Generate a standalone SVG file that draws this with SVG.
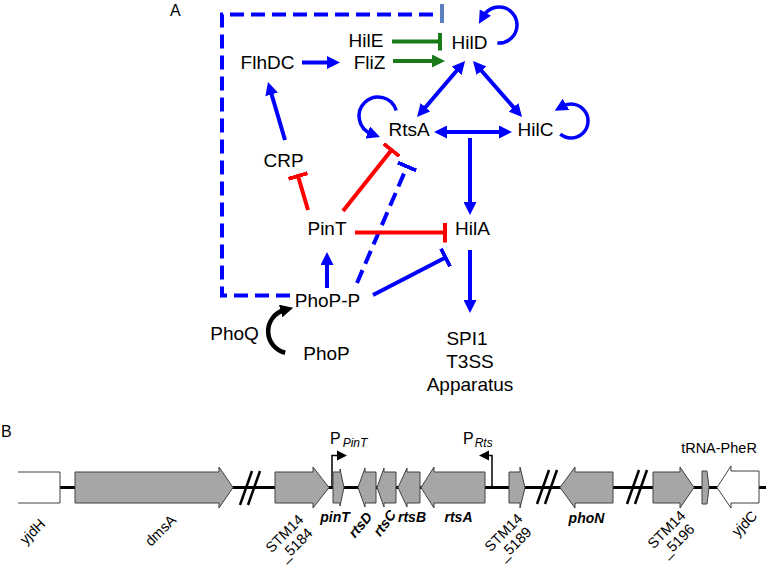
<svg xmlns="http://www.w3.org/2000/svg" width="766" height="570" viewBox="0 0 766 570">
<style>
text{font-family:"Liberation Sans",Arial,sans-serif;fill:#000}
.n{font-size:19px;text-anchor:middle}
.pl{font-size:16px}
.c{fill:none;stroke-width:4}
.b{stroke:#0000ff}
.r{stroke:#ff0000}
.g{stroke:#1a7a1a}
.d{stroke-dasharray:14 7}
.lp{fill:none;stroke:#0000ff;stroke-width:3.5}
.gene{fill:#a6a6a6;stroke:#404040;stroke-width:1}
.wg{fill:#fff;stroke:#404040;stroke-width:1}
.gl{font-size:14px;font-weight:bold;font-style:italic;text-anchor:middle}
.rl{font-size:14.5px;text-anchor:middle}
.brk{stroke:#000;stroke-width:2.5}
</style>
<defs>
<marker id="ab" viewBox="0 0 13 13" markerWidth="13" markerHeight="13" refX="4" refY="6.5" orient="auto-start-reverse" markerUnits="userSpaceOnUse"><path d="M0,0 L13,6.5 L0,13 z" fill="#0000ff"/></marker>
<marker id="ag" viewBox="0 0 13 13" markerWidth="13" markerHeight="13" refX="4" refY="6.5" orient="auto" markerUnits="userSpaceOnUse"><path d="M0,0 L13,6.5 L0,13 z" fill="#1a7a1a"/></marker>
<marker id="ak" viewBox="0 0 13 13" markerWidth="13" markerHeight="13" refX="4" refY="6.5" orient="auto" markerUnits="userSpaceOnUse"><path d="M0,0 L13,6.5 L0,13 z" fill="#000"/></marker>
<marker id="tb" viewBox="0 0 4 20" markerWidth="4" markerHeight="20" refX="2" refY="10" orient="auto" markerUnits="userSpaceOnUse"><rect width="4" height="20" fill="#0000ff"/></marker>
<marker id="tr" viewBox="0 0 4 20" markerWidth="4" markerHeight="20" refX="2" refY="10" orient="auto" markerUnits="userSpaceOnUse"><rect width="4" height="20" fill="#ff0000"/></marker>
<marker id="tg" viewBox="0 0 4 18" markerWidth="4" markerHeight="18" refX="2" refY="9" orient="auto" markerUnits="userSpaceOnUse"><rect width="4" height="18" fill="#1a7a1a"/></marker>
</defs>
<rect width="766" height="570" fill="#fff"/>

<text class="pl" x="170" y="16">A</text>
<text class="pl" x="1" y="437">B</text>

<g id="connectors">
<path class="c b d" d="M290,295.5 H222 V14.5 H438"/>
<rect x="440" y="4" width="4" height="19" fill="#5b7fbd"/>
<path class="c b" d="M302,62.5 L331,62.5" marker-end="url(#ab)"/>
<path class="c g" d="M392,41.5 L440,41.5" marker-end="url(#tg)"/>
<path class="c g" d="M393,61 L436,61" marker-end="url(#ag)"/>
<path class="c b" d="M459.2,67.8 L422.9,110.2" marker-start="url(#ab)" marker-end="url(#ab)"/>
<path class="c b" d="M478.9,67.8 L516.1,110.2" marker-start="url(#ab)" marker-end="url(#ab)"/>
<path class="c b" d="M443,132 L503,132" marker-start="url(#ab)" marker-end="url(#ab)"/>
<path class="c b" d="M470,138 L470,206" marker-end="url(#ab)"/>
<path class="c b" d="M470,250 L470,304" marker-end="url(#ab)"/>
<path class="c b" d="M285,140 L270.5,90.6" marker-end="url(#ab)"/>
<path class="c r" d="M308,210 L298,176" marker-end="url(#tr)"/>
<path class="c r" d="M343,211 L391.5,150" marker-end="url(#tr)"/>
<path class="c b d" d="M357,283 L407,166.5" marker-end="url(#tb)"/>
<path class="c r" d="M355,232.5 L445,232.5" marker-end="url(#tr)"/>
<path class="c b" d="M373,295 L445.5,257.5" marker-end="url(#tb)"/>
<path class="c b" d="M327,288 L327,261" marker-end="url(#ab)"/>
<path class="lp" d="M497.4,42.9 A18,18 0 1,0 483.4,16" marker-end="url(#ab)"/>
<path class="lp" d="M396.2,110.4 A19,19 0 1,0 371.5,133.9" marker-end="url(#ab)"/>
<path class="lp" d="M560.3,134.2 A17,17 0 1,0 562.5,106.3" marker-end="url(#ab)"/>
<path d="M285.2,352.7 A22,22 0 0,1 284.5,310" fill="none" stroke="#000" stroke-width="4.5" marker-end="url(#ak)"/>
</g>

<g id="HilE"><text class="n" x="366" y="47">HilE</text></g>
<g id="FliZ"><text class="n" x="369.5" y="69">FliZ</text></g>
<g id="FlhDC"><text class="n" x="267.5" y="69">FlhDC</text></g>
<g id="HilD"><text class="n" x="469.5" y="49">HilD</text></g>
<g id="RtsA"><text class="n" x="409" y="136">RtsA</text></g>
<g id="HilC"><text class="n" x="535.5" y="136">HilC</text></g>
<g id="CRP"><text class="n" x="283.5" y="167">CRP</text></g>
<g id="PinT"><text class="n" x="327" y="235">PinT</text></g>
<g id="HilA"><text class="n" x="472.5" y="235">HilA</text></g>
<g id="PhoP-P"><text class="n" x="327.5" y="307">PhoP-P</text></g>
<g id="PhoQ"><text class="n" x="234.5" y="340">PhoQ</text></g>
<g id="PhoP"><text class="n" x="326.5" y="360">PhoP</text></g>
<g id="SPI1"><text class="n" x="467" y="345">SPI1</text><text class="n" x="470" y="368">T3SS</text><text class="n" x="470" y="391">Apparatus</text></g>

<g id="locus">
<line x1="60" y1="487.5" x2="766" y2="487.5" stroke="#000" stroke-width="3"/>
<g id="breaks">
<line class="brk" x1="240" y1="505" x2="252" y2="471"/>
<line class="brk" x1="248" y1="505" x2="260" y2="471"/>
<line class="brk" x1="537" y1="504" x2="549" y2="470"/>
<line class="brk" x1="545" y1="504" x2="557" y2="470"/>
<line class="brk" x1="627" y1="504" x2="639" y2="470"/>
<line class="brk" x1="635" y1="504" x2="647" y2="470"/>
</g>
<g id="yjdH"><path class="wg" d="M18,472 H60 V503 H18"/><text class="rl" font-size="15" transform="translate(36,535) rotate(-45)">yjdH</text></g>
<g id="dmsA"><polygon class="gene" points="75,472 219,472 219,467 233,487.5 219,508 219,503 75,503"/><text class="rl" font-size="15" transform="translate(164,534) rotate(-45)">dmsA</text></g>
<g id="STM14_5184"><polygon class="gene" points="275,472 313,472 313,467 329,487.5 313,508 313,503 275,503"/><text class="rl" transform="translate(288,537) rotate(-45)"><tspan x="0" y="0">STM14</tspan><tspan x="0" y="16">_5184</tspan></text></g>
<g id="PPinT"><path d="M332,487.5 V455.5 H338" fill="none" stroke="#000" stroke-width="1.5"/><polygon points="337,450.5 347,455.5 337,460.5" fill="#000"/><text x="330" y="444" font-size="16">P<tspan dx="2" dy="3" font-size="12" font-style="italic">PinT</tspan></text></g>
<g id="pinT"><polygon class="gene" points="333,472 340,472 340,469 344,487.5 340,506 340,503 333,503"/><text class="gl" x="335" y="522">pinT</text></g>
<g id="rtsD"><polygon class="gene" points="376,472 365,472 365,468 358,487.5 365,507 365,503 376,503"/><text class="gl" transform="translate(364,528) rotate(-50)">rtsD</text></g>
<g id="rtsC"><polygon class="gene" points="396,472 384,472 384,468 377,487.5 384,507 384,503 396,503"/><text class="gl" transform="translate(388.5,526) rotate(-54)">rtsC</text></g>
<g id="rtsB"><polygon class="gene" points="420,472 407,472 407,468 398,487.5 407,507 407,503 420,503"/><text class="gl" x="412" y="522">rtsB</text></g>
<g id="rtsA"><polygon class="gene" points="485,472 434,472 434,467 421,487.5 434,508 434,503 485,503"/><text class="gl" x="458.5" y="522">rtsA</text></g>
<g id="PRts"><path d="M492,487.5 V455.5 H487" fill="none" stroke="#000" stroke-width="1.5"/><polygon points="489,450.5 479,455.5 489,460.5" fill="#000"/><text x="463" y="444" font-size="16">P<tspan dx="1" dy="3" font-size="12" font-style="italic">Rts</tspan></text></g>
<g id="STM14_5189"><polygon class="gene" points="509,472 520,472 520,467 525,487.5 520,508 520,503 509,503"/><text class="rl" transform="translate(507,536) rotate(-45)"><tspan x="0" y="0">STM14</tspan><tspan x="0" y="16">_5189</tspan></text></g>
<g id="phoN"><polygon class="gene" points="613,472 575,472 575,467 560,487.5 575,508 575,503 613,503"/><text class="gl" x="586.5" y="523">phoN</text></g>
<g id="STM14_5196"><polygon class="gene" points="653,472 680,472 680,467 694,487.5 680,508 680,503 653,503"/><text class="rl" transform="translate(670,533) rotate(-45)"><tspan x="0" y="0">STM14</tspan><tspan x="0" y="16">_5196</tspan></text></g>
<g id="tRNA-PheR"><polygon class="gene" points="702,471 707,471 709,487.5 707,504 702,504"/><text x="719" y="453" font-size="14.5" text-anchor="middle">tRNA-PheR</text></g>
<g id="yjdC"><polygon class="wg" points="759,471 731,471 731,466 717,487.5 731,508 731,503 759,503"/><text class="rl" font-size="15" transform="translate(748,527) rotate(-45)">yjdC</text></g>
</g>
</svg>
